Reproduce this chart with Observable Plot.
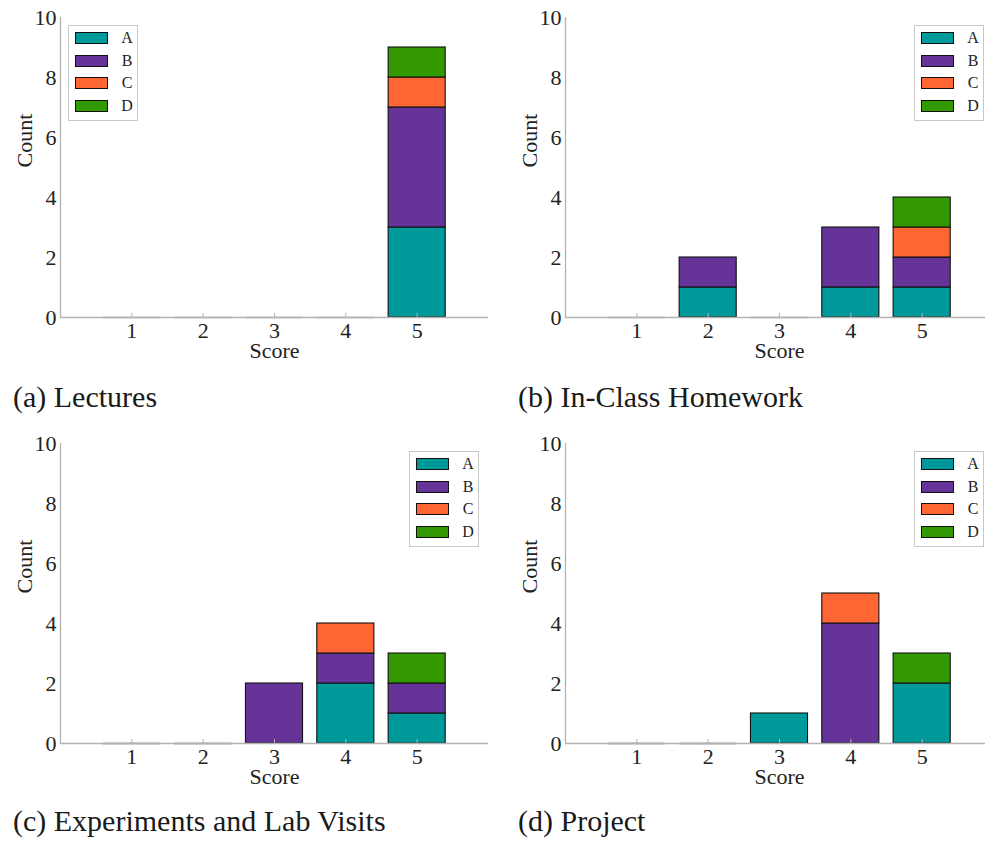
<!DOCTYPE html>
<html>
<head>
<meta charset="utf-8">
<script src="https://cdn.jsdelivr.net/npm/d3@7"></script>
<script src="https://cdn.jsdelivr.net/npm/@observablehq/plot@0.6"></script>
<style>
  html, body { margin: 0; padding: 0; background: white; }
  #page { position: relative; width: 985px; height: 841px; overflow: hidden; background: white; font-family: "Liberation Serif", serif; color: #222; }
  .panel { position: absolute; width: 490px; }
  .panel svg { display: block; }
  .panel svg text { font-family: "Liberation Serif", serif !important; }
  .caption { position: absolute; font-size: 30px; line-height: 30px; white-space: nowrap; color: #1a1a1a; }
  .legend { position: absolute; width: 70px; height: 96px; box-sizing: border-box; border: 1px solid #c8c8c8; background: white; }
  .legend .sw { position: absolute; left: 6px; width: 33px; height: 12px; box-sizing: border-box; border: 1.2px solid #111; }
  .legend .lb { position: absolute; left: 50px; width: 16px; text-align: center; font-size: 16px; line-height: 16px; color: #222; }
</style>
</head>
<body>
<div id="page"></div>
<script>
// ---- data ----
const scores = [1, 2, 3, 4, 5];
const groups = ["A", "B", "C", "D"];
const colors = ["#009999", "#663399", "#ff6633", "#339900"];
const yTicks = [0, 2, 4, 6, 8, 10];

const lecturesA = [0, 0, 0, 0, 3];
const lecturesB = [0, 0, 0, 0, 4];
const lecturesC = [0, 0, 0, 0, 1];
const lecturesD = [0, 0, 0, 0, 1];

const homeworkA = [0, 1, 0, 1, 1];
const homeworkB = [0, 1, 0, 2, 1];
const homeworkC = [0, 0, 0, 0, 1];
const homeworkD = [0, 0, 0, 0, 1];

const experimentsA = [0, 0, 0, 2, 1];
const experimentsB = [0, 0, 2, 1, 1];
const experimentsC = [0, 0, 0, 1, 0];
const experimentsD = [0, 0, 0, 0, 1];

const projectA = [0, 0, 1, 0, 2];
const projectB = [0, 0, 0, 4, 0];
const projectC = [0, 0, 0, 1, 0];
const projectD = [0, 0, 0, 0, 1];

const captions = ["(a) Lectures", "(b) In-Class Homework", "(c) Experiments and Lab Visits", "(d) Project"];

// ---- layout ----
const panels = [
  {caption: captions[0], series: [lecturesA, lecturesB, lecturesC, lecturesD], left: 0, top: 0, height: 363, legendRight: false, emptyStroke: "#9a9a9a", capTop: 382},
  {caption: captions[1], series: [homeworkA, homeworkB, homeworkC, homeworkD], left: 505, top: 0, height: 363, legendRight: true, emptyStroke: "#9a9a9a", capTop: 382},
  {caption: captions[2], series: [experimentsA, experimentsB, experimentsC, experimentsD], left: 0, top: 426, height: 377, legendRight: true, emptyStroke: "#555", capTop: 806},
  {caption: captions[3], series: [projectA, projectB, projectC, projectD], left: 505, top: 426, height: 377, legendRight: true, emptyStroke: "#555", capTop: 806}
];

const page = document.getElementById("page");

function makePlot(p) {
  const rows = [];
  scores.forEach((s, i) => groups.forEach((g, j) => {
    const c = p.series[j][i];
    if (c > 0) rows.push({score: s, group: g, count: c});
  }));
  const empty = scores
    .filter((s, i) => p.series.every(arr => arr[i] === 0))
    .map(s => ({score: s, count: 0}));
  return Plot.plot({
    width: 490,
    height: p.height,
    marginLeft: 60,
    marginRight: 2,
    marginTop: 17,
    marginBottom: p.height - 17 - 300,
    style: {fontFamily: "Liberation Serif", fontSize: "22px", color: "#222"},
    x: {type: "linear", domain: [0, 6]},
    y: {type: "linear", domain: [0, 10]},
    color: {domain: groups, range: colors},
    marks: [
      Plot.ruleY(empty, {x1: d => d.score - 0.4, x2: d => d.score + 0.4, y: "count", stroke: p.emptyStroke, strokeWidth: 1.6}),
      Plot.rectY(rows, Plot.stackY({
        x1: d => d.score - 0.4, x2: d => d.score + 0.4, y: "count",
        fill: "group", stroke: "#111", strokeWidth: 1.1
      })),
      Plot.ruleY([0], {stroke: "#b3b3b3", strokeWidth: 1.3}),
      Plot.ruleX([0], {stroke: "#b3b3b3", strokeWidth: 1.3}),
      Plot.axisX(scores, {tickSize: 4, dy: -4, text: null, stroke: "#b3b3b3", label: null}),
      Plot.axisX(scores, {tickSize: 0, tickPadding: 5, label: null, fontSize: 22}),
      Plot.axisY(yTicks, {tickSize: 0, tickPadding: 4, label: null, fontSize: 22}),
      Plot.text(["Score"], {frameAnchor: "bottom", dy: 40, fontSize: 22}),
      Plot.text(["Count"], {frameAnchor: "left", dx: -36, rotate: -90, fontSize: 22})
    ]
  });
}

function makeLegend(p) {
  const lg = document.createElement("div");
  lg.className = "legend";
  const left = p.left + (p.legendRight ? 409 : 68);
  lg.style.left = left + "px";
  lg.style.top = (p.top + 25) + "px";
  groups.forEach((g, j) => {
    const sw = document.createElement("div");
    sw.className = "sw";
    sw.style.background = colors[j];
    sw.style.top = (6 + j * 22.7) + "px";
    lg.appendChild(sw);
    const lb = document.createElement("div");
    lb.className = "lb";
    lb.textContent = g;
    lb.style.top = (4 + j * 22.7) + "px";
    lg.appendChild(lb);
  });
  return lg;
}

panels.forEach(p => {
  const div = document.createElement("div");
  div.className = "panel";
  div.style.left = p.left + "px";
  div.style.top = p.top + "px";
  div.appendChild(makePlot(p));
  page.appendChild(div);
  page.appendChild(makeLegend(p));
  const cap = document.createElement("div");
  cap.className = "caption";
  cap.textContent = p.caption;
  cap.style.left = (p.left + 13) + "px";
  cap.style.top = p.capTop + "px";
  page.appendChild(cap);
});
</script>
</body>
</html>
